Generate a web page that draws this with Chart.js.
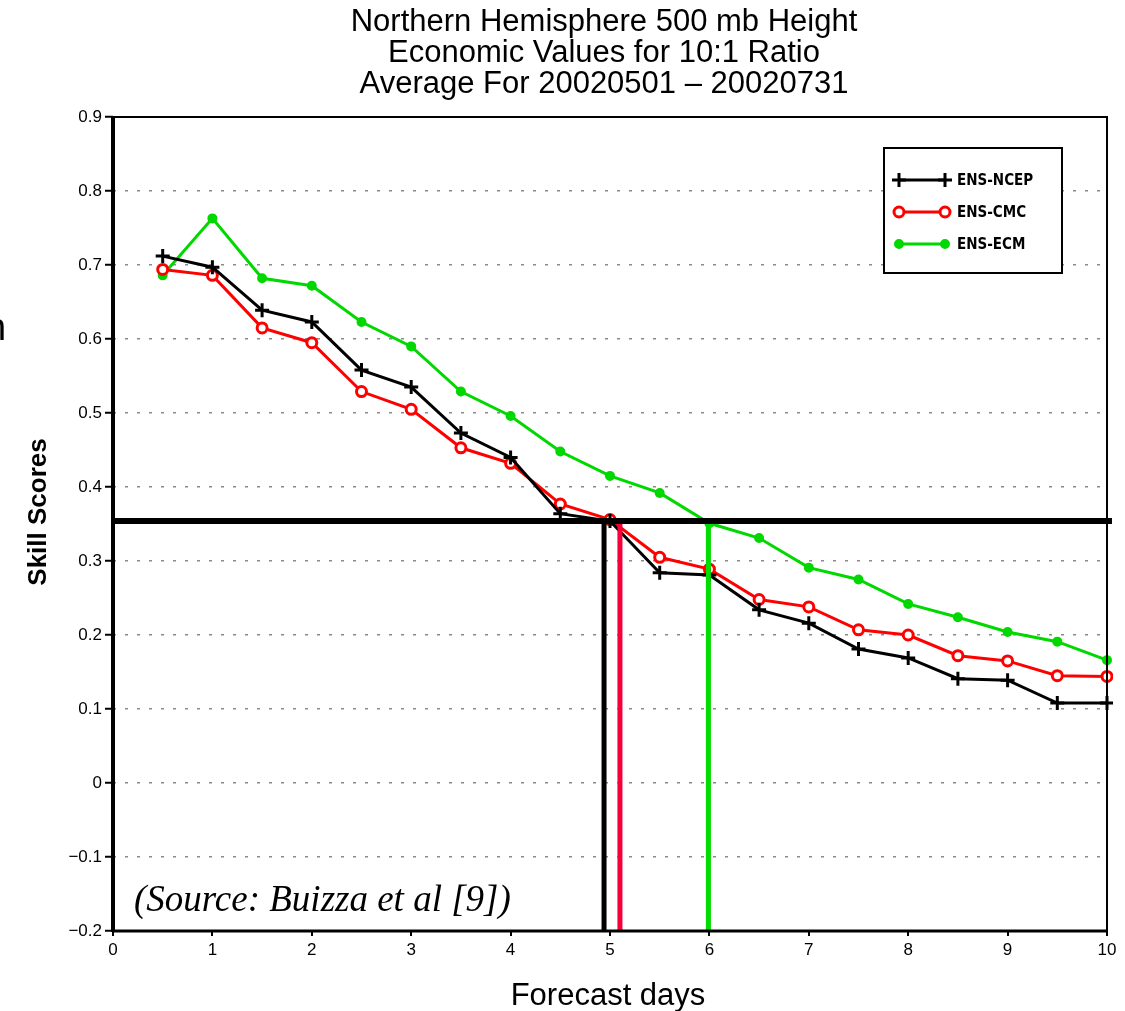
<!DOCTYPE html>
<html>
<head>
<meta charset="utf-8">
<script src="https://cdn.jsdelivr.net/npm/chart.js@4.4.1/dist/chart.umd.min.js"></script>
<style>
  html, body { margin: 0; padding: 0; background: #fff; }
  #wrap { width: 1125px; height: 1011px; position: relative; }
</style>
</head>
<body>
<div id="wrap"><canvas id="chart" width="1125" height="1011"></canvas></div>
<script>
// forecast days and skill scores
const days = [0.5, 1, 1.5, 2, 2.5, 3, 3.5, 4, 4.5, 5, 5.5, 6, 6.5, 7, 7.5, 8, 8.5, 9, 9.5, 10];
const ensNcep = [0.712, 0.697, 0.639, 0.623, 0.558, 0.535, 0.473, 0.440, 0.364, 0.354, 0.284, 0.281, 0.234, 0.216, 0.181, 0.169, 0.141, 0.139, 0.108, 0.108];
const ensCmc  = [0.694, 0.686, 0.615, 0.595, 0.529, 0.505, 0.453, 0.432, 0.377, 0.356, 0.305, 0.289, 0.248, 0.238, 0.207, 0.200, 0.172, 0.165, 0.145, 0.144];
const ensEcm  = [0.686, 0.763, 0.682, 0.672, 0.623, 0.590, 0.529, 0.496, 0.448, 0.415, 0.392, 0.351, 0.331, 0.291, 0.275, 0.242, 0.224, 0.204, 0.191, 0.166];

// threshold line and the days each model crosses it
const threshold = 0.354;
const thresholdSpan = [0, 10.05];
const crossDays = [4.94, 5.10, 5.99];   // NCEP, CMC, ECM

const xTicks = [0, 1, 2, 3, 4, 5, 6, 7, 8, 9, 10];
const yTicks = [-0.2, -0.1, 0, 0.1, 0.2, 0.3, 0.4, 0.5, 0.6, 0.7, 0.8, 0.9];
const yMin = -0.2, yMax = 0.9;

const titleLines = ['Northern Hemisphere 500 mb Height', 'Economic Values for 10:1 Ratio', 'Average For 20020501 \u2013 20020731'];
const seriesNames = ['ENS-NCEP', 'ENS-CMC', 'ENS-ECM'];

const BLACK = '#000000', RED = '#ff0000', GREEN = '#00d800';
const VRED = '#f5003a', VGREEN = '#00dd00';

const pts = arr => days.map((d, i) => ({ x: d, y: arr[i] }));
const vline = d => [{ x: d, y: threshold }, { x: d, y: yMin }];

const seriesStyle = [
    { color: BLACK, pointStyle: 'cross', radius: 7, bg: BLACK, pw: 3 },
    { color: RED, pointStyle: 'circle', radius: 5, bg: '#ffffff', pw: 3 },
    { color: GREEN, pointStyle: 'circle', radius: 4, bg: GREEN, pw: 2 },
];

const datasets = [
    // marker lines, drawn on top
    { data: thresholdSpan.map(x => ({ x, y: threshold })), borderColor: BLACK, borderWidth: 6, pointRadius: 0, clip: false, order: 0 },
    { data: vline(crossDays[0]), borderColor: BLACK, borderWidth: 5, pointRadius: 0, order: 0 },
    { data: vline(crossDays[1]), borderColor: VRED, borderWidth: 5, pointRadius: 0, order: 0 },
    { data: vline(crossDays[2]), borderColor: VGREEN, borderWidth: 5, pointRadius: 0, order: 0 },
];
[ensNcep, ensCmc, ensEcm].forEach((arr, i) => {
    const s = seriesStyle[i];
    datasets.push({
        label: seriesNames[i],
        data: pts(arr),
        borderColor: s.color,
        backgroundColor: s.bg,
        borderWidth: 3,
        pointStyle: s.pointStyle,
        pointRadius: s.radius,
        pointBorderColor: s.color,
        pointBackgroundColor: s.bg,
        pointBorderWidth: s.pw,
        clip: 6,
        order: 1,
    });
});

// titles, frame, legend and source note
const decor = {
    id: 'decor',
    afterDatasetsDraw(chart) {
        const ctx = chart.ctx;
        const a = chart.chartArea;
        ctx.save();
        // frame
        ctx.strokeStyle = '#000';
        ctx.lineWidth = 2;
        ctx.strokeRect(a.left, a.top, a.right - a.left, a.bottom - a.top);
        ctx.lineWidth = 4;
        ctx.beginPath(); ctx.moveTo(a.left, a.top - 1); ctx.lineTo(a.left, a.bottom + 1); ctx.stroke();
        ctx.lineWidth = 3;
        ctx.beginPath(); ctx.moveTo(a.left, a.bottom); ctx.lineTo(a.right, a.bottom); ctx.stroke();

        // legend
        const lx = 884, ly = 148, lw = 178, lh = 125;
        ctx.fillStyle = '#fff';
        ctx.fillRect(lx, ly, lw, lh);
        ctx.lineWidth = 2;
        ctx.strokeRect(lx, ly, lw, lh);
        seriesNames.forEach((name, i) => {
            const s = seriesStyle[i];
            const y = ly + 32 + i * 32;
            ctx.strokeStyle = s.color;
            ctx.lineWidth = 3;
            ctx.beginPath(); ctx.moveTo(899, y); ctx.lineTo(945, y); ctx.stroke();
            [899, 945].forEach(px => {
                ctx.fillStyle = s.bg;
                ctx.strokeStyle = s.color;
                ctx.lineWidth = s.pw;
                ctx.beginPath();
                if (s.pointStyle === 'circle') {
                    ctx.arc(px, y, s.radius, 0, Math.PI * 2);
                    ctx.fill(); ctx.stroke();
                } else {
                    ctx.moveTo(px - s.radius, y); ctx.lineTo(px + s.radius, y);
                    ctx.moveTo(px, y - s.radius); ctx.lineTo(px, y + s.radius);
                    ctx.stroke();
                }
            });
            ctx.fillStyle = '#000';
            ctx.font = 'bold 15px "DejaVu Sans Condensed", "Liberation Sans Narrow", sans-serif';
            ctx.textAlign = 'left';
            ctx.textBaseline = 'middle';
            ctx.fillText(name, 957, y + 1);
        });

        // source note
        ctx.fillStyle = '#000';
        ctx.font = 'italic 37px "Liberation Serif", serif';
        ctx.textAlign = 'left';
        ctx.textBaseline = 'alphabetic';
        ctx.fillText('(Source: Buizza et al [9])', 134, 911);
        ctx.restore();
    },
    afterDraw(chart) {
        const ctx = chart.ctx;
        ctx.save();
        ctx.fillStyle = '#000';
        ctx.textAlign = 'center';
        ctx.textBaseline = 'alphabetic';
        ctx.font = '31px "Liberation Sans", Arial, sans-serif';
        titleLines.forEach((t, i) => ctx.fillText(t, 604, 31 + i * 31));

        ctx.font = '31px "Liberation Sans", Arial, sans-serif';
        ctx.fillText('Forecast days', 608, 1005);

        ctx.translate(46, 512);
        ctx.rotate(-Math.PI / 2);
        ctx.font = 'bold 26px "Liberation Sans", Arial, sans-serif';
        ctx.fillText('Skill Scores', 0, 0);
        ctx.restore();

        // clipped letter at the left edge of the source image
        ctx.save();
        ctx.fillStyle = '#000';
        ctx.font = '38px "Liberation Sans", Arial, sans-serif';
        ctx.textAlign = 'left';
        ctx.fillText('n', -15, 340);
        ctx.restore();
    }
};

new Chart(document.getElementById('chart'), {
    type: 'line',
    data: { datasets },
    options: {
        responsive: false,
        animation: false,
        events: [],
        layout: { padding: { left: 0, right: 18, top: 117, bottom: 0 } },
        plugins: { legend: { display: false }, tooltip: { enabled: false }, title: { display: false } },
        scales: {
            x: {
                type: 'linear',
                min: 0, max: 10,
                afterBuildTicks: s => { s.ticks = xTicks.map(v => ({ value: v })); },
                afterFit: s => { s.height = 80; },
                grid: { drawOnChartArea: false, drawTicks: true, tickLength: 5, color: '#000', lineWidth: 2 },
                border: { display: false },
                ticks: { color: '#000', font: { size: 17, family: '"Liberation Sans", Arial, sans-serif' }, padding: 4, maxRotation: 0 },
            },
            y: {
                type: 'linear',
                min: yMin, max: yMax,
                afterBuildTicks: s => { s.ticks = yTicks.map(v => ({ value: v })); },
                afterFit: s => { s.width = 113; },
                grid: { color: '#8a8a8a', lineWidth: 1.5, drawTicks: true, tickLength: 8, tickColor: '#000', tickWidth: 2 },
                border: { display: false, dash: [3, 9] },
                ticks: {
                    color: '#000',
                    font: { size: 17, family: '"Liberation Sans", Arial, sans-serif' },
                    padding: 3,
                    callback: v => Math.abs(v) < 1e-9 ? '0' : v.toFixed(1).replace('-', '\u2212'),
                },
            },
        },
    },
    plugins: [decor],
});
</script>
</body>
</html>
